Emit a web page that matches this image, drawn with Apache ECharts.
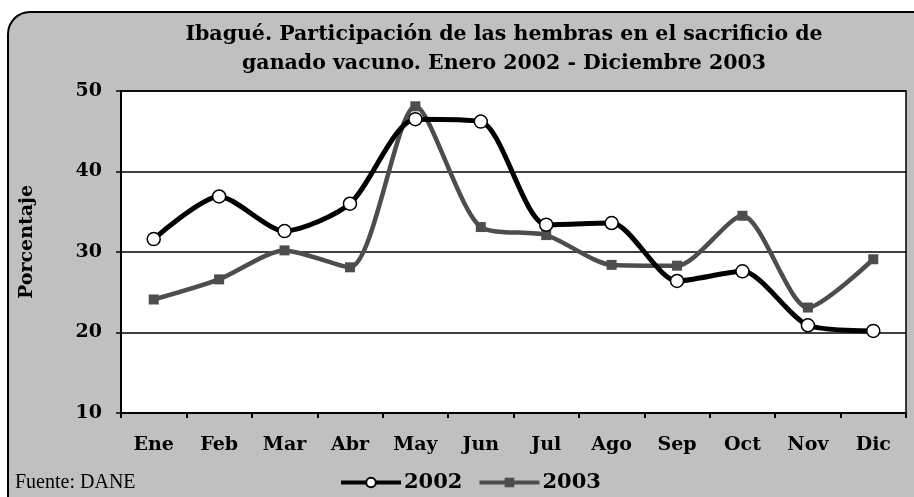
<!DOCTYPE html>
<html>
<head>
<meta charset="utf-8">
<script src="https://cdn.jsdelivr.net/npm/echarts@6/dist/echarts.min.js"></script>
<style>
  html, body { margin: 0; padding: 0; background: #fff; }
  #chart { width: 914px; height: 497px; }
</style>
</head>
<body>
<div id="chart"></div>
<script>
const months = ['Ene', 'Feb', 'Mar', 'Abr', 'May', 'Jun', 'Jul', 'Ago', 'Sep', 'Oct', 'Nov', 'Dic']
const serie2002 = [31.6, 36.9, 32.6, 36.0, 46.5, 46.2, 33.4, 33.6, 26.4, 27.6, 20.9, 20.2]
const serie2003 = [24.1, 26.6, 30.2, 28.1, 48.1, 33.1, 32.1, 28.4, 28.3, 34.5, 23.1, 29.1]
const yTicks = [10, 20, 30, 40, 50]

const font = 'DejaVu Serif'
const chart = echarts.init(document.getElementById('chart'))

const option = {
  animation: false,
  backgroundColor: '#fff',
  graphic: [
    {
      type: 'rect',
      z: -10,
      shape: { x: 8, y: 12, width: 930, height: 510, r: 22 },
      style: { fill: '#C0C0C0', stroke: '#000', lineWidth: 2 },
    },
    {
      type: 'text',
      left: 15,
      top: 473,
      style: { text: 'Fuente: DANE', font: '20px "Liberation Serif"', fill: '#000' },
    },
  ],
  title: {
    text: 'Ibagué. Participación de las hembras en el sacrificio de\nganado vacuno. Enero 2002 - Diciembre 2003',
    left: 499,
    textAlign: 'center',
    top: 15,
    textStyle: { fontFamily: font, fontWeight: 'bold', fontSize: 20.5, lineHeight: 29, color: '#000' },
  },
  legend: {
    top: 472,
    left: 339,
    padding: 0,
    itemWidth: 60,
    itemHeight: 12,
    itemGap: 15,
    textStyle: { fontFamily: font, fontWeight: 'bold', fontSize: 21, color: '#000', padding: [0, 0, 0, -2] },
    data: [
      { name: '2002', lineStyle: { width: 4 } },
      { name: '2003', lineStyle: { width: 4 } },
    ],
  },
  grid: { left: 121, top: 91, right: 8, bottom: 84 },
  xAxis: {
    type: 'category',
    data: months,
    boundaryGap: true,
    axisLine: { lineStyle: { color: '#000', width: 2 } },
    axisTick: { show: true, length: 5, lineStyle: { color: '#000', width: 2 } },
    axisLabel: { fontFamily: font, fontWeight: 'bold', fontSize: 19, color: '#000', margin: 23 },
  },
  yAxis: {
    type: 'value',
    min: yTicks[0],
    max: yTicks[yTicks.length - 1],
    interval: 10,
    name: 'Porcentaje',
    nameLocation: 'middle',
    nameGap: 84,
    nameRotate: 90,
    nameTextStyle: { fontFamily: font, fontWeight: 'bold', fontSize: 19, color: '#000', padding: [0, 0, 0, 20] },
    axisLine: { show: true, lineStyle: { color: '#000', width: 2 } },
    axisTick: { show: true, length: 5, lineStyle: { color: '#000', width: 1.5 } },
    axisLabel: { fontFamily: font, fontWeight: 'bold', fontSize: 19, color: '#000', margin: 19 },
    splitLine: { lineStyle: { color: '#000', width: 1.5 } },
  },
  series: [
    {
      name: '2002',
      type: 'line',
      data: serie2002,
      smooth: 0.25,
      symbol: 'circle',
      symbolSize: 13,
      lineStyle: { color: '#000', width: 5 },
      itemStyle: { color: '#fff', borderColor: '#000', borderWidth: 1.5 },
      z: 3,
    },
    {
      name: '2003',
      type: 'line',
      data: serie2003,
      smooth: 0.25,
      symbol: 'rect',
      symbolSize: 10,
      lineStyle: { color: '#4D4D4D', width: 4.5 },
      itemStyle: { color: '#4D4D4D', borderWidth: 0 },
      z: 2,
    },
  ],
}

chart.setOption(option)

// borde derecho del área de trazado
const rect = chart.getModel().getComponent('grid').coordinateSystem.getRect()
chart.setOption({
  graphic: [
    option.graphic[0],
    option.graphic[1],
    {
      type: 'rect',
      z: -5,
      shape: { x: rect.x, y: rect.y, width: rect.width, height: rect.height },
      style: { fill: '#fff', stroke: '#000', lineWidth: 1.5 },
    },
  ],
})
</script>
</body>
</html>
